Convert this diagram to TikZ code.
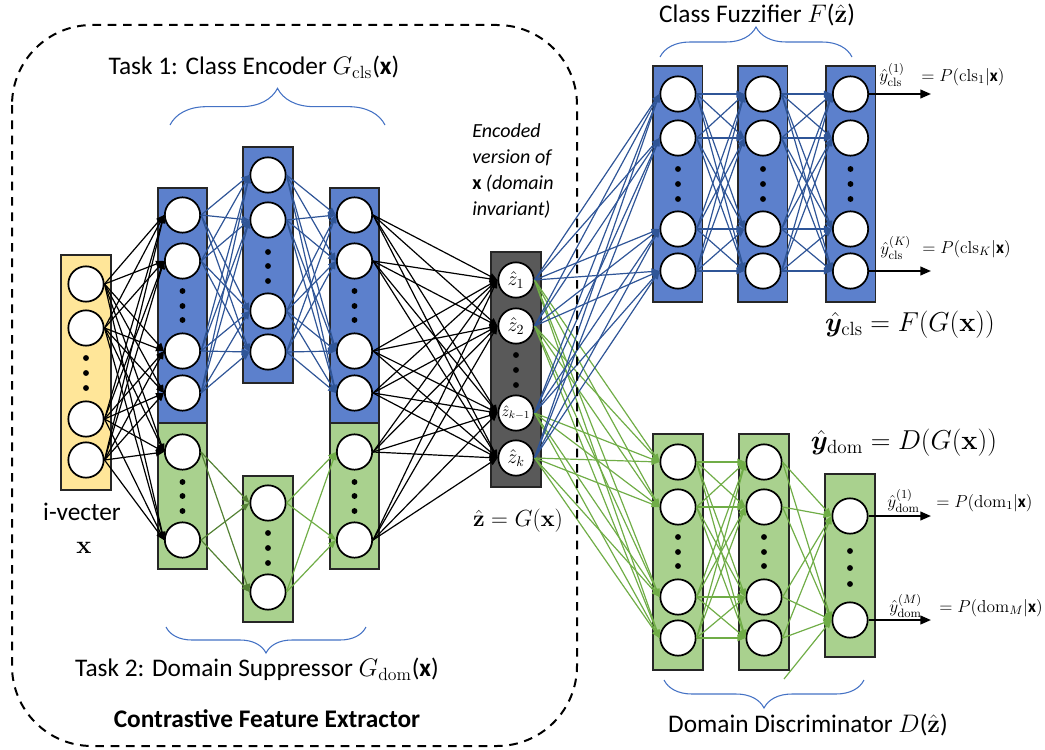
\RequirePackage{fix-cm}
\documentclass[tikz,border=0pt]{standalone}
\usepackage{amsmath,bm}
\usepackage[no-math]{fontspec}
\setmainfont{Carlito}
\usetikzlibrary{arrows.meta,decorations.pathreplacing}

\definecolor{encblue}{RGB}{92,128,204}
\definecolor{wireblue}{RGB}{47,85,151}
\definecolor{encgreen}{RGB}{169,209,142}
\definecolor{wiregreen}{RGB}{84,130,53}
\definecolor{wirelime}{RGB}{112,173,71}
\definecolor{inyellow}{RGB}{255,230,153}
\definecolor{codegray}{RGB}{89,89,89}
\definecolor{bracecol}{RGB}{68,114,196}

\begin{document}
\begin{tikzpicture}[x=0.75pt,y=-0.75pt,
  neuron/.style={circle,draw=black,line width=1.3pt,fill=white,minimum size=26.5pt,inner sep=0pt},
  layerbox/.style={draw=black!85,line width=0.9pt},
  wire/.style={line width=0.9pt,-{Triangle[length=6pt,width=4.8pt]}},
  kwire/.style={wire,draw=black},
  bwire/.style={wire,draw=wireblue},
  gwire/.style={wire,draw=wiregreen},
  lwire/.style={wire,draw=wirelime},
  outarr/.style={line width=1.5pt,-{Triangle[length=8pt,width=6.5pt]}},
  brc/.style={draw=bracecol,line width=0.8pt,decorate,decoration={brace,amplitude=#1}},
  ttl/.style={font=\fontsize{19}{23}\selectfont},
  small/.style={font=\fontsize{13}{15}\selectfont,anchor=west,inner sep=0pt},
  big/.style={font=\fontsize{20.5}{24}\selectfont,inner sep=1pt},
  frame/.style={draw=black,line width=1.5pt,dash pattern=on 6.5pt off 5pt,rounded corners=60pt}
]
\useasboundingbox (0,0) rectangle (1045,749);

% ---------- layer boxes ----------
\draw[layerbox,fill=inyellow] (61,255) rectangle (111,490);
\draw[layerbox,fill=encblue]  (158,188) rectangle (207,423);
\draw[layerbox,fill=encgreen] (158,423) rectangle (207,569);
\draw[layerbox,fill=encblue]  (243,147) rectangle (293,383);
\draw[layerbox,fill=encgreen] (243,476) rectangle (293,622);
\draw[layerbox,fill=encblue]  (330,188) rectangle (379,423);
\draw[layerbox,fill=encgreen] (330,423) rectangle (379,569);
\draw[layerbox,fill=codegray] (491,252) rectangle (541,487);
\foreach \x in {653,738,826} \draw[layerbox,fill=encblue] (\x,66) rectangle +(49.5,236);
\foreach \x in {653,739} \draw[layerbox,fill=encgreen] (\x,434) rectangle +(50,236);
\draw[layerbox,fill=encgreen] (825,474) rectangle (875,657);

% ---------- neurons ----------
\foreach \n/\y in {1/284,2/328,3/419,4/460} \node[neuron] (in\n) at (86,\y) {};
\foreach \n/\y in {1/215,2/261,3/351,4/393,5/452,6/540} {
  \node[neuron] (a\n) at (182.5,\y) {};
  \node[neuron] (c\n) at (354.5,\y) {};
}
\foreach \n/\y in {1/175,2/220,3/311,4/352,5/503,6/592} \node[neuron] (b\n) at (268,\y) {};
\node[neuron,font=\fontsize{15}{17}\selectfont] (z1) at (516,280) {$\hat{z}_1$};
\node[neuron,font=\fontsize{15}{17}\selectfont] (z2) at (516,326) {$\hat{z}_2$};
\node[neuron,font=\fontsize{11.5}{13}\selectfont] (z3) at (516,413) {$\hat{z}_{k-1}$};
\node[neuron,font=\fontsize{15}{17}\selectfont] (z4) at (516,458) {$\hat{z}_k$};
\foreach \n/\y in {1/94,2/138,3/229,4/271} {
  \node[neuron] (fa\n) at (678,\y) {};
  \node[neuron] (fb\n) at (763,\y) {};
  \node[neuron] (fc\n) at (850.5,\y) {};
}
\foreach \n/\y in {1/462,2/507,3/597,4/638} {
  \node[neuron] (da\n) at (678,\y) {};
  \node[neuron] (db\n) at (764,\y) {};
}
\node[neuron] (dc1) at (850,516) {};
\node[neuron] (dc2) at (850,620) {};

% ---------- ellipsis dots ----------
\foreach \y in {358,373,388} \fill (86,\y) circle (2.2pt);
\foreach \y in {291,306,320,482,496,511} {\fill (182.5,\y) circle (2.2pt); \fill (354.5,\y) circle (2.2pt);}
\foreach \y in {252,266,281,533,548,563} \fill (268,\y) circle (2.2pt);
\foreach \y in {355,370,385} \fill (516,\y) circle (2.2pt);
\foreach \y in {169,184,199} {\fill (678,\y) circle (2.2pt); \fill (763,\y) circle (2.2pt); \fill (850.5,\y) circle (2.2pt);}
\foreach \y in {537,552,566} {\fill (678,\y) circle (2.2pt); \fill (764,\y) circle (2.2pt);}
\foreach \y in {551,568,584} \fill (850,\y) circle (2.2pt);

% ---------- connections ----------
\foreach \i in {1,...,4} \foreach \j in {1,...,6} \draw[kwire] (in\i.east) -- (a\j.west);
\foreach \i in {1,...,4} \foreach \j in {1,...,4} {
  \draw[bwire] (a\i.east) -- (b\j.west);
  \draw[bwire] (b\i.east) -- (c\j.west);
}
\foreach \i in {5,6} \foreach \j in {5,6} {
  \draw[gwire] (a\i.east) -- (b\j.west);
  \draw[lwire] (b\i.east) -- (c\j.west);
}
\foreach \i in {1,...,6} \foreach \j in {1,...,4} \draw[kwire] (c\i.east) -- (z\j.west);
\foreach \i in {1,...,4} \foreach \j in {1,...,4} {
  \draw[bwire] (z\i.east) -- (fa\j.west);
  \draw[lwire] (z\i.east) -- (da\j.west);
  \draw[bwire] (fa\i.east) -- (fb\j.west);
  \draw[bwire] (fb\i.east) -- (fc\j.west);
  \draw[lwire] (da\i.east) -- (db\j.west);
}
\foreach \i in {1,...,4} \foreach \j in {1,2} \draw[lwire] (db\i.east) -- (dc\j.west);
\coordinate (tail) at (784,679);
\draw[lwire] (tail) -- (dc2.west);

% ---------- outputs ----------
\coordinate (oc1) at (931,94);
\coordinate (oc2) at (931,271);
\coordinate (od1) at (931,516);
\coordinate (od2) at (931,620);
\draw[outarr] (fc1.east) -- (oc1);
\draw[outarr] (fc4.east) -- (oc2);
\draw[outarr] (dc1.east) -- (od1);
\draw[outarr] (dc2.east) -- (od2);

\node[small] (yc1) at (879,75) {$\hat{y}^{(1)}_{\mathrm{cls}}$};
\node[small] (pc1) at (921,77) {$=P(\mathrm{cls}_1|\textbf{x})$};
\node[small] (yc2) at (880,248) {$\hat{y}^{(K)}_{\mathrm{cls}}$};
\node[small] (pc2) at (922,249) {$=P(\mathrm{cls}_K|\textbf{x})$};
\node[small] (yd1) at (887,501) {$\hat{y}^{(1)}_{\mathrm{dom}}$};
\node[small] (pd1) at (936,503) {$=P(\mathrm{dom}_1|\textbf{x})$};
\node[small] (yd2) at (889,606) {$\hat{y}^{(M)}_{\mathrm{dom}}$};
\node[small] (pd2) at (939,608) {$=P(\mathrm{dom}_M|\textbf{x})$};

\node[big] (fcls) at (910,325) {$\hat{\bm{y}}_{\mathrm{cls}}=F(G(\mathbf{x}))$};
\node[big] (fdom) at (904,443) {$\hat{\bm{y}}_{\mathrm{dom}}=D(G(\mathbf{x}))$};
\node[font=\fontsize{17.5}{20}\selectfont,inner sep=1pt] (zeq) at (518,521) {$\hat{\mathbf{z}}=G(\mathbf{x})$};

% ---------- titles and braces ----------
\node[ttl] (t1) at (254,67) {Task 1: Class Encoder $G_{\mathrm{cls}}$(\textbf{x})};
\draw[brc=27.5pt] (170,125) -- (385,125);
\node[ttl] (t2) at (257,669) {Task 2: Domain Suppressor $G_{\mathrm{dom}}$(\textbf{x})};
\draw[brc=19.5pt] (366,627) -- (166,627);
\node[ttl,font=\fontsize{19}{23}\selectfont\bfseries] (cfe) at (267,719) {Contrastive Feature Extractor};
\node[ttl] (tf) at (757,15) {Class Fuzzifier $F$($\hat{\mathbf{z}}$)};
\draw[brc=22.5pt] (660,57) -- (852,57);
\node[ttl] (td) at (808,725) {Domain Discriminator $D$($\hat{\mathbf{z}}$)};
\draw[brc=21pt] (864,680) -- (664,680);

\node[ttl] (iv) at (82,512) {i-vecter};
\node[ttl] (ivx) at (84,548) {$\mathbf{x}$};
\node[anchor=west,align=left,inner sep=0pt,font=\fontsize{15}{19.5}\selectfont\itshape] (enc) at (472,171)
  {Encoded\\version of\\{\upshape\bfseries x} (domain\\invariant)};

% ---------- extractor frame ----------
\draw[frame] (12,25) rectangle (577,746);
\end{tikzpicture}
\end{document}
